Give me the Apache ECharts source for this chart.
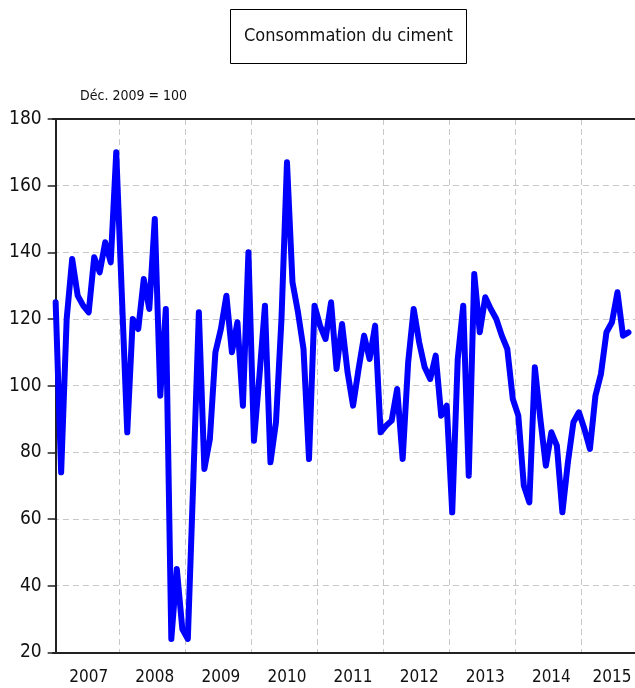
<!DOCTYPE html>
<html>
<head>
<meta charset="utf-8">
<script src="https://cdn.jsdelivr.net/npm/echarts@6/dist/echarts.min.js"></script>
<style>
  html, body { margin: 0; padding: 0; background: #fff; }
  #chart { width: 635px; height: 688px; }
</style>
</head>
<body>
<div id="chart"></div>
<script>
// indice mensuel, janv. 2007 -> sept. 2015
var years = ['2007', '2008', '2009', '2010', '2011', '2012', '2013', '2014', '2015']
var monthNames = ['janv', 'févr', 'mars', 'avr', 'mai', 'juin', 'juil', 'août', 'sept', 'oct', 'nov', 'déc']

var v2007 = [125, 74, 120, 138, 127, 124, 122, 138.5, 134, 143, 137, 170]
var v2008 = [128, 86, 120, 117, 132, 123, 150, 97, 123, 24, 45, 27]
var v2009 = [24, 72, 122, 75, 84, 110, 117, 127, 110, 119, 94, 140]
var v2010 = [83.5, 103, 124, 77, 89, 120, 167, 131, 122, 111, 78, 124]
var v2011 = [118, 114, 125, 105, 118.5, 104, 94, 105, 115, 108, 118, 86]
var v2012 = [88, 89.5, 99, 78, 107, 123, 113, 105.5, 102, 109, 91, 94]
var v2013 = [62, 108, 124, 73, 133.5, 116, 126.5, 123, 120, 115, 111, 96]
var v2014 = [91, 70, 65, 105.5, 90, 76, 86, 82, 62, 77, 89, 92]
var v2015 = [87, 81, 97, 103.5, 116, 119, 128, 115, 116]

var yTicks = { min: 20, max: 180, step: 20 }

// categories: every month up to oct. 2015 (last slot empty, only widens the axis)
var months = []
years.forEach(function (y) {
  monthNames.forEach(function (m) {
    if (months.length < 106) months.push(m + ' ' + y)
  })
})
var values = [].concat(v2007, v2008, v2009, v2010, v2011, v2012, v2013, v2014, v2015)
while (values.length < months.length) values.push('-')

var FONT = "'Liberation Sans Narrow', 'DejaVu Sans Condensed', sans-serif"
var band = 5.508

var chart = echarts.init(document.getElementById('chart'))
chart.setOption({
  animation: false,
  title: [
    {
      text: 'Consommation du ciment',
      left: 230,
      top: 9,
      padding: [18, 14, 19, 14],
      borderColor: '#000',
      borderWidth: 1,
      textStyle: { fontFamily: FONT, fontSize: 18, fontWeight: 'normal', color: '#111' }
    },
    {
      text: 'Déc. 2009 = 100',
      left: 80,
      top: 89,
      padding: 0,
      textStyle: { fontFamily: FONT, fontSize: 14, fontWeight: 'normal', color: '#111' }
    }
  ],
  grid: {
    left: 55.65 - band / 2,
    top: 119,
    width: band * months.length,
    height: 533.3,
    outerBoundsMode: 'none',
    containLabel: false
  },
  xAxis: [
    {
      // year grid lines, long ticks and year labels
      type: 'category',
      data: months,
      boundaryGap: true,
      axisLine: { lineStyle: { color: '#222', width: 2 } },
      axisTick: {
        length: 12,
        interval: function (i) { return i > 0 && i % 12 === 0 },
        lineStyle: { color: '#222', width: 1.5 }
      },
      axisLabel: {
        interval: function (i) { return (i % 12 === 6 && i < 96) || i === 101 },
        formatter: function (v) { return v.split(' ')[1] },
        margin: 17,
        fontFamily: FONT,
        fontSize: 17,
        color: '#111'
      },
      splitLine: {
        show: true,
        interval: function (i) { return i > 0 && i % 12 === 0 },
        lineStyle: { color: '#c8c8c8', type: [6, 4], width: 1 }
      }
    },
    {
      // quarterly short ticks
      type: 'category',
      data: months,
      boundaryGap: true,
      axisLine: { show: false },
      axisTick: {
        length: 6,
        interval: function (i) { return i > 0 && i % 3 === 0 },
        lineStyle: { color: '#222', width: 1.5 }
      },
      axisLabel: { show: false },
      splitLine: { show: false }
    },
    {
      // top frame line
      type: 'category',
      data: months,
      position: 'top',
      boundaryGap: true,
      axisLine: { lineStyle: { color: '#222', width: 2 } },
      axisTick: { show: false },
      axisLabel: { show: false },
      splitLine: { show: false }
    }
  ],
  yAxis: {
    type: 'value',
    min: yTicks.min,
    max: yTicks.max,
    interval: yTicks.step,
    offset: -band / 2,
    axisLine: { show: true, lineStyle: { color: '#222', width: 2 } },
    axisTick: { show: true, length: 8, lineStyle: { color: '#222', width: 1.5 } },
    axisLabel: { margin: 14, fontFamily: FONT, fontSize: 19, color: '#111' },
    splitLine: { show: true, lineStyle: { color: '#c8c8c8', type: [6, 4], width: 1 } }
  },
  series: [
    {
      name: 'Consommation du ciment',
      type: 'line',
      xAxisIndex: 0,
      data: values,
      showSymbol: false,
      symbol: 'none',
      lineStyle: { color: '#0000ff', width: 6, cap: 'round', join: 'round' },
      itemStyle: { color: '#0000ff' },
      z: 5
    }
  ]
})
</script>
</body>
</html>
